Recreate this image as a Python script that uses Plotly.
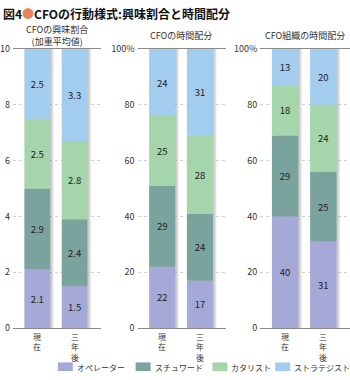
import plotly.graph_objects as go

W, H = 350, 380

categories = ["現在", "三年後"]
series_names = ["オペレーター", "スチュワード", "カタリスト", "ストラテジスト"]
series_colors = ["#a4a9d8", "#7ba39e", "#a5d5ab", "#a2cdee"]

# Panel 1: CFO interest ratio (weighted average)
interest_operator = [2.1, 1.5]
interest_steward = [2.9, 2.4]
interest_catalyst = [2.5, 2.8]
interest_strategist = [2.5, 3.3]

# Panel 2: CFO time allocation (%)
time_operator = [22, 17]
time_steward = [29, 24]
time_catalyst = [25, 28]
time_strategist = [24, 31]

# Panel 3: CFO organisation time allocation (%)
org_operator = [40, 31]
org_steward = [29, 25]
org_catalyst = [18, 24]
org_strategist = [13, 20]

panel_titles = ["CFOの興味割合<br>(加重平均値)", "CFOの時間配分", "CFO組織の時間配分"]
tick_vals_1 = [0, 2, 4, 6, 8, 10]
tick_text_1 = ["0", "2", "4", "6", "8", "10"]
tick_vals_pct = [0, 20, 40, 60, 80, 100]
tick_text_pct = ["0", "20", "40", "60", "80", "100%"]

panels = [
    ([interest_operator, interest_steward, interest_catalyst, interest_strategist], 10, tick_vals_1, tick_text_1, "{:.1f}"),
    ([time_operator, time_steward, time_catalyst, time_strategist], 100, tick_vals_pct, tick_text_pct, "{:d}"),
    ([org_operator, org_steward, org_catalyst, org_strategist], 100, tick_vals_pct, tick_text_pct, "{:d}"),
]

FONT = "Noto Sans CJK JP"


def px_x(p):
    return p / W


def px_y(p):
    return 1 - p / H


x_domains = [[px_x(12), px_x(100)], [px_x(137), px_x(226)], [px_x(260), px_x(350)]]
y_domain = [px_y(332.5), px_y(43.5)]
title_centers = [56, 181, 305]
title_rows = [29.8, 29, 29]

BAR_W = 0.69
xs = list(range(len(categories)))

fig = go.Figure()
annotations = []

for i, (series, ymax, tv, tt, fmt) in enumerate(panels):
    xa = "x" if i == 0 else f"x{i+1}"
    ya = "y" if i == 0 else f"y{i+1}"
    totals = [sum(s[j] for s in series) for j in range(len(xs))]
    # soft shadow to the right of each bar
    for off in (0.09, 0.045):
        fig.add_trace(go.Bar(
            x=xs, y=totals, base=[0] * len(xs), width=BAR_W, offset=-BAR_W / 2 + off,
            marker=dict(color="rgba(90,90,90,0.18)", line=dict(width=0)),
            hoverinfo="skip", showlegend=False, xaxis=xa, yaxis=ya,
        ))
    base = [0.0 for _ in xs]
    for k, vals in enumerate(series):
        fig.add_trace(go.Bar(
            x=xs, y=vals, base=list(base), width=BAR_W, offset=-BAR_W / 2,
            name=series_names[k],
            marker=dict(color=series_colors[k], line=dict(width=0)),
            text=[fmt.format(v) for v in vals], textposition="inside",
            insidetextanchor="middle", textangle=0,
            textfont=dict(size=9.5, color="#222", family=FONT),
            showlegend=False, xaxis=xa, yaxis=ya,
        ))
        base = [b + v for b, v in zip(base, vals)]

    axis_x = dict(
        domain=x_domains[i], range=[-0.65, 1.7], tickvals=xs, showticklabels=False,
        showline=True, mirror=True, linecolor="#8a8a8a", linewidth=1, showgrid=False,
        zeroline=False, ticks="", anchor=ya, fixedrange=True,
    )
    axis_y = dict(
        domain=y_domain, range=[0, ymax], tickvals=tv, ticktext=tt,
        showline=False, showgrid=True, gridcolor="#cfcfcf", griddash="dot", gridwidth=1,
        zeroline=False, ticks="", tickfont=dict(size=9, color="#333", family=FONT),
        anchor=xa, ticklabelstandoff=2, fixedrange=True,
    )
    key = "" if i == 0 else str(i + 1)
    fig.layout["xaxis" + key] = axis_x
    fig.layout["yaxis" + key] = axis_y

    # vertical category labels, one character per line
    for j, cat in enumerate(categories):
        annotations.append(dict(
            text="<br>".join(cat), x=xs[j], y=px_y(333.5), xref=xa, yref="paper",
            xanchor="center", yanchor="top", showarrow=False,
            font=dict(size=8, color="#333", family=FONT),
        ))

annotations.append(dict(
    text="<b>図4<span style='color:#e8845a'>●</span>CFOの行動様式:興味割合と時間配分</b>",
    x=px_x(0), y=px_y(7), xref="paper", yref="paper", xanchor="left", yanchor="middle",
    showarrow=False, font=dict(size=12, color="#111", family=FONT)))

for i, t in enumerate(panel_titles):
    annotations.append(dict(
        text=t, x=px_x(title_centers[i]), y=px_y(title_rows[i]), xref="paper", yref="paper",
        xanchor="center", yanchor="middle", showarrow=False,
        font=dict(size=9, color="#333", family=FONT),
    ))

shapes = []
legend_x = [57, 135, 212, 275]
for k, name in enumerate(series_names):
    shapes.append(dict(type="rect", xref="paper", yref="paper",
                       x0=px_x(legend_x[k]), x1=px_x(legend_x[k] + 15),
                       y0=px_y(377), y1=px_y(368),
                       fillcolor=series_colors[k], line=dict(width=0)))
    annotations.append(dict(
        text=name, x=px_x(legend_x[k] + 17), y=px_y(373), xref="paper", yref="paper",
        xanchor="left", yanchor="middle", showarrow=False,
        font=dict(size=8, color="#333", family=FONT),
    ))

fig.update_layout(
    width=W, height=H, margin=dict(l=0, r=0, t=0, b=0),
    paper_bgcolor="white", plot_bgcolor="white",
    barmode="overlay", showlegend=False,
    annotations=annotations, shapes=shapes,
    font=dict(family=FONT),
)

fig.write_html("out.html")
